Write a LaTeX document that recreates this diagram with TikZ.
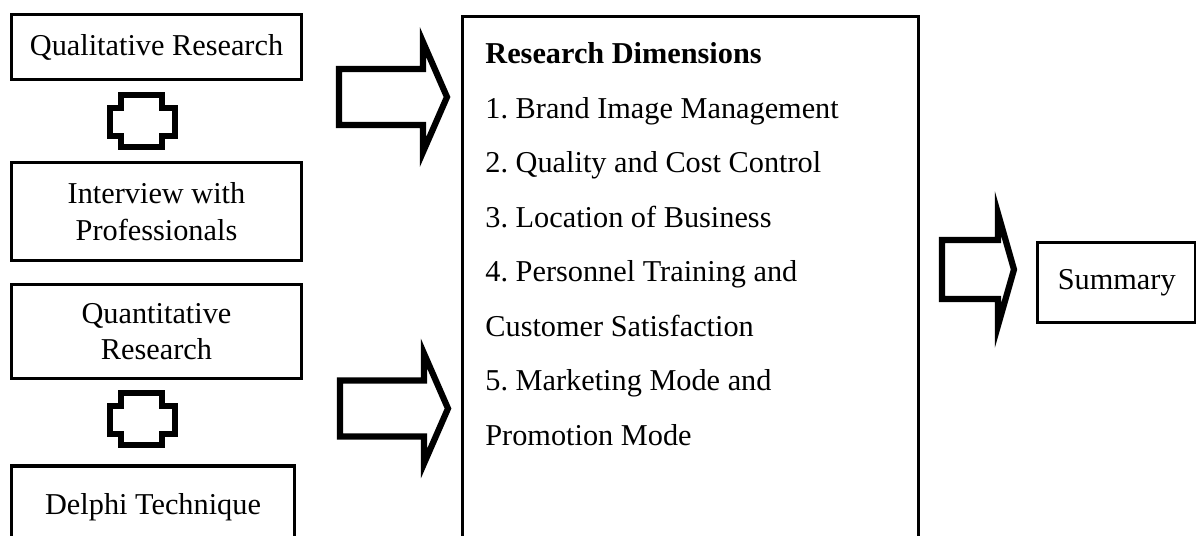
\documentclass[tikz,border=0pt]{standalone}
\usepackage{fontspec}
\setmainfont{Liberation Serif}
\usetikzlibrary{positioning}
\frenchspacing
\tikzstyle{box}=[draw,rectangle,line width=1.7pt,align=center,inner sep=0pt]
\tikzstyle{blockarrow}=[draw,line width=3.1pt,miter limit=10]

\begin{document}
\begin{tikzpicture}[x=0.5pt,y=-0.5pt,font=\fontsize{15.15pt}{18.25pt}\selectfont]
\useasboundingbox (0,0) rectangle (1196,536);
\clip (0,0) rectangle (1196,536);

% left column: the two research methods
\node [box,minimum width=145pt,minimum height=32.5pt] (qual) at (156.5,47) {Qualitative Research};
\node [box,minimum width=145pt,minimum height=49pt] (interview) at (156.5,211.5) {Interview with\\Professionals};
\node [box,minimum width=145pt,minimum height=47pt] (quant) at (156.5,331.5) {Quantitative\\Research};
\node [box,minimum width=141.5pt,minimum height=41pt] (delphi) at (153,507) {Delphi Technique};

% links between method and tool
\draw [blockarrow] (121,95) -- (162,95) -- (162,108) -- (175,108) -- (175,136) -- (162,136) -- (162,147)
  -- (121,147) -- (121,136) -- (110,136) -- (110,108) -- (121,108) -- cycle;
\draw [blockarrow,shift={(0,298)}] (121,95) -- (162,95) -- (162,108) -- (175,108) -- (175,136) -- (162,136) -- (162,147)
  -- (121,147) -- (121,136) -- (110,136) -- (110,108) -- (121,108) -- cycle;

% middle: the dimensions
\node [box,anchor=north,minimum width=228pt,minimum height=300pt] (dims) at (690.5,14.5) {};
\node [anchor=north west,align=left,inner sep=0pt,font=\fontsize{15.15pt}{27.25pt}\selectfont] (dimlist) at (485,42.5)
  {\textbf{Research Dimensions}\\
   1. Brand Image Management\\
   2. Quality and Cost Control\\
   3. Location of Business\\
   4. Personnel Training and\\
   Customer Satisfaction\\
   5. Marketing Mode and\\
   Promotion Mode};

% big arrows into the dimensions box
\draw [blockarrow] (339,69) -- (423,69) -- (423,42) -- (447,97) -- (423,152) -- (423,125) -- (339,125) -- cycle;
\draw [blockarrow,shift={(1,311.5)}] (339,69) -- (423,69) -- (423,42) -- (447,97) -- (423,152) -- (423,125) -- (339,125) -- cycle;

% right: summary
\draw [blockarrow] (942,240) -- (998,240) -- (998,213.5) -- (1014,269.5) -- (998,325.5) -- (998,299) -- (942,299) -- cycle;
\node [box,minimum width=79.25pt,minimum height=40pt] (summary) at (1116.75,282.5) {Summary};
\end{tikzpicture}
\end{document}
